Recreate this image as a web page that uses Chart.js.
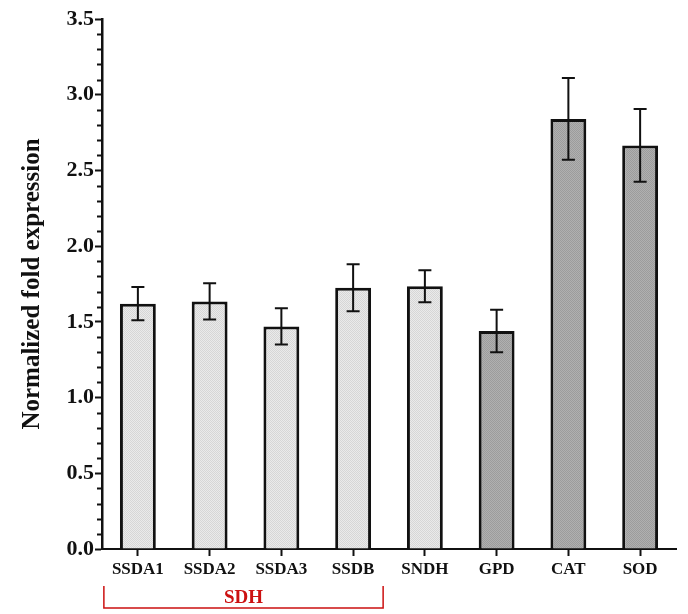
<!DOCTYPE html>
<html lang="en">
<head>
    <title>Normalized fold expression</title>
    <meta charset="UTF-8">
    <style>
        body {
            margin: 0;
            background: #ffffff;
        }
        #plot-container {
            width: 688px;
            height: 614px;
        }
    </style>
</head>
<body>
<div id="plot-container">
    <canvas id="fold-plot"></canvas>
</div>
<script src="https://cdn.jsdelivr.net/npm/chart.js"></script>
<script>
    const genes = ['SSDA1', 'SSDA2', 'SSDA3', 'SSDB', 'SNDH', 'GPD', 'CAT', 'SOD'];
    const fold_values = [1.62, 1.635, 1.47, 1.725, 1.735, 1.44, 2.84, 2.665];
    const fold_errors = [0.11, 0.12, 0.12, 0.155, 0.105, 0.14, 0.27, 0.24];
    const is_dark = [false, false, false, false, false, true, true, true];
    const group_label = 'SDH';

    const serif = '"Liberation Serif", "Times New Roman", serif';

    // dotted fill like the original figure
    function makePattern(c1, c2) {
        const p = document.createElement('canvas');
        p.width = 2;
        p.height = 2;
        const pc = p.getContext('2d');
        pc.fillStyle = c1;
        pc.fillRect(0, 0, 2, 2);
        pc.fillStyle = c2;
        pc.fillRect(0, 0, 1, 1);
        pc.fillRect(1, 1, 1, 1);
        return pc.createPattern(p, 'repeat');
    }

    const ctx = document.getElementById('fold-plot').getContext('2d');
    const light_fill = makePattern('#eaeaea', '#d6d6d6');
    const dark_fill = makePattern('#b0b0b0', '#9c9c9c');

    const errorBars = {
        id: 'errorBars',
        afterDatasetsDraw(chart) {
            const meta = chart.getDatasetMeta(0);
            const y = chart.scales.y;
            const c = chart.ctx;
            c.save();
            c.strokeStyle = '#111';
            c.lineWidth = 2;
            meta.data.forEach((bar, i) => {
                const top = y.getPixelForValue(fold_values[i] + fold_errors[i]);
                const bot = y.getPixelForValue(fold_values[i] - fold_errors[i]);
                c.beginPath();
                c.moveTo(bar.x, top);
                c.lineTo(bar.x, bot);
                c.moveTo(bar.x - 6.5, top);
                c.lineTo(bar.x + 6.5, top);
                c.moveTo(bar.x - 6.5, bot);
                c.lineTo(bar.x + 6.5, bot);
                c.stroke();
            });
            c.restore();
        }
    };

    const minorTicks = {
        id: 'minorTicks',
        afterDraw(chart) {
            const y = chart.scales.y;
            const c = chart.ctx;
            c.save();
            c.strokeStyle = '#111';
            c.lineWidth = 2;
            for (let k = 1; k < 35; k++) {
                if (k % 5 === 0) continue;
                const py = Math.round(y.getPixelForValue(k / 10)) + 0.5;
                c.beginPath();
                c.moveTo(y.right - 5, py);
                c.lineTo(y.right, py);
                c.stroke();
            }
            c.restore();
        }
    };

    const groupBracket = {
        id: 'groupBracket',
        afterDraw(chart) {
            const x = chart.scales.x;
            const c = chart.ctx;
            const x0 = x.getPixelForValue(0) - 34;
            const x1 = x.getPixelForValue(3) + 30;
            c.save();
            c.strokeStyle = '#cc1111';
            c.lineWidth = 1.5;
            c.beginPath();
            c.moveTo(x0, 586);
            c.lineTo(x0, 608);
            c.lineTo(x1, 608);
            c.lineTo(x1, 586);
            c.stroke();
            c.fillStyle = '#cc1111';
            c.font = 'bold 19px ' + serif;
            c.textAlign = 'center';
            c.textBaseline = 'middle';
            c.fillText(group_label, (x0 + x1) / 2, 598);
            c.restore();
        }
    };

    const fold_plot = new Chart(ctx, {
        type: 'bar',
        data: {
            labels: genes,
            datasets: [{
                label: 'Normalized fold expression',
                data: fold_values,
                backgroundColor: is_dark.map(d => d ? dark_fill : light_fill),
                borderColor: '#111',
                borderWidth: 3,
                borderSkipped: 'bottom',
                barPercentage: 0.5,
                categoryPercentage: 1.0
            }]
        },
        options: {
            responsive: true,
            maintainAspectRatio: false,
            animation: false,
            layout: {
                padding: { top: 19, right: 12, left: 0, bottom: 0 }
            },
            plugins: {
                legend: { display: false },
                tooltip: { enabled: false }
            },
            scales: {
                x: {
                    afterFit(scale) { scale.height = 65; },
                    grid: {
                        offset: false,
                        drawOnChartArea: false,
                        tickLength: 7,
                        tickWidth: 2,
                        tickColor: '#111'
                    },
                    border: { color: '#111', width: 2 },
                    ticks: {
                        color: '#111',
                        padding: 3,
                        font: { family: serif, size: 17, weight: 'bold' }
                    }
                },
                y: {
                    min: 0,
                    max: 3.5,
                    afterFit(scale) { scale.width = 102; },
                    grid: {
                        drawOnChartArea: false,
                        tickLength: 7,
                        tickWidth: 2,
                        tickColor: '#111'
                    },
                    border: { color: '#111', width: 2.5 },
                    ticks: {
                        stepSize: 0.5,
                        color: '#111',
                        padding: 1,
                        font: { family: serif, size: 22, weight: 'bold' },
                        callback: v => v.toFixed(1)
                    },
                    title: {
                        display: true,
                        text: 'Normalized fold expression',
                        color: '#111',
                        padding: { top: 18, bottom: 0 },
                        font: { family: serif, size: 25, weight: 'bold' }
                    }
                }
            }
        },
        plugins: [errorBars, minorTicks, groupBracket]
    });
</script>
</body>
</html>
